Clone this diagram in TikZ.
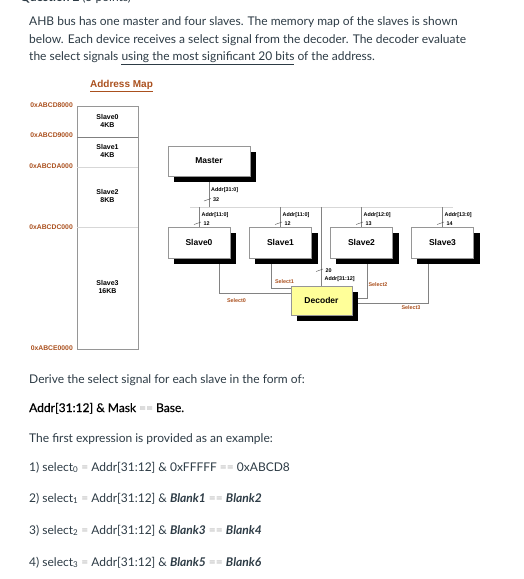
\documentclass[tikz,border=0pt]{standalone}
\usepackage{fontspec}
\setmainfont{Lato}
\newfontfamily\arial{Liberation Sans}
\newfontface\latosb[FakeBold=0.4]{Lato}
\usetikzlibrary{backgrounds}
\definecolor{txt}{HTML}{2D3B45}
\definecolor{brn}{RGB}{170,80,30}
\definecolor{boxc}{RGB}{150,150,150}
\definecolor{wirec}{RGB}{130,130,130}
\definecolor{busc}{RGB}{215,215,215}
\definecolor{decy}{RGB}{255,255,153}
\definecolor{eqc}{RGB}{175,175,175}
\tikzset{
  blk/.style={draw=boxc, fill=white, inner sep=0pt,
    font=\arial\bfseries\fontsize{8.5}{10}\selectfont},
  sig/.style={font=\arial\bfseries\fontsize{5.4}{6}\selectfont, inner sep=0pt, anchor=west},
  sel/.style={font=\arial\bfseries\fontsize{5.4}{6}\selectfont, text=brn, inner sep=0pt},
  addr/.style={font=\arial\bfseries\fontsize{6.8}{7}\selectfont, text=brn, inner sep=0pt, anchor=east},
  maptxt/.style={font=\arial\bfseries\fontsize{7}{8}\selectfont, inner sep=0pt, align=center},
  para/.style={font=\fontsize{12}{14}\selectfont, text=txt, inner sep=0pt, anchor=base west},
  wire/.style={draw=wirec, line width=0.6pt},
  buswire/.style={draw=busc, line width=0.6pt},
  tickmark/.style={draw=black!70, line width=0.4pt},
  shadowbox/.style={fill=black},
}
\newcommand\shadowof[1]{\fill[shadowbox] ([shift={(6pt,-6pt)}]#1.south west) rectangle ([shift={(6pt,-6pt)}]#1.north east);}
\begin{document}
\begin{tikzpicture}[x=1pt,y=-1pt]
\clip (0,0) rectangle (524,579);

% header text
\node[para, font=\fontsize{12}{14}\selectfont\bfseries] (q) at (20,1.5) {Question 2 {\mdseries (5 points)}};
\node[para] (p1) at (29,25.7) {AHB bus has one master and four slaves. The memory map of the slaves is shown};
\node[para] (p2) at (29,43.3) {below. Each device receives a select signal from the decoder. The decoder evaluate};
\node[para] (p3) at (29,60.5) {the select signals \underline{using the most significant 20 bits} of the address.};

% address map
\node[font=\arial\bfseries\fontsize{10}{12}\selectfont, text=brn, inner sep=0pt] (amap) at (121.5,86) {\underline{Address Map}};
\draw[draw=boxc, line width=0.6pt] (77,106) rectangle (138,349);
\draw[draw=gray, line width=0.6pt] (77,137) -- (138,137);
\draw[buswire] (77,167) -- (138,167);
\draw[buswire] (77,227) -- (138,227);
\node[addr] (a0) at (73,105) {0xABCD8000};
\node[addr] (a1) at (73,135.5) {0xABCD9000};
\node[addr] (a2) at (73,166) {0xABCDA000};
\node[addr] (a3) at (73,227) {0xABCDC000};
\node[addr] (a4) at (73,348) {0xABCE0000};
\node[maptxt] (m0) at (107.5,121) {Slave0\\4KB};
\node[maptxt] (m1) at (107.5,150.5) {Slave1\\4KB};
\node[maptxt] (m2) at (107.5,195.5) {Slave2\\8KB};
\node[maptxt] (m3) at (107.5,287) {Slave3\\16KB};

% blocks
\node[blk, minimum width=82pt, minimum height=30pt] (ms) at (209,161) {Master};
\node[blk, minimum width=62pt, minimum height=31pt] (s0) at (199,242.5) {Slave0};
\node[blk, minimum width=62pt, minimum height=31pt] (s1) at (280.5,242.5) {Slave1};
\node[blk, minimum width=62pt, minimum height=31pt] (s2) at (361.5,242.5) {Slave2};
\node[blk, minimum width=62pt, minimum height=31pt] (s3) at (442.5,242.5) {Slave3};
\node[blk, fill=decy, minimum width=61pt, minimum height=29pt] (dec) at (321.5,300.5) {Decoder};

\coordinate (bl) at (190,207);
\coordinate (br) at (453,207);

\begin{scope}[on background layer]
  \draw[buswire] (bl) -- (br);
  \draw[wire] (ms.south) -- (ms.south |- bl);
  \draw[wire] (s0.north |- bl) -- (s0.north);
  \draw[wire] (s1.north |- bl) -- (s1.north);
  \draw[wire] (s2.north |- bl) -- (s2.north);
  \draw[wire] (s3.north |- bl) -- (s3.north);
  \draw[wire] (dec.north |- bl) -- (dec.north);
  \draw[wire] ([xshift=20pt]s0.south) |- ([yshift=7.5pt]dec.west);
  \draw[wire] ([xshift=-9.5pt]s1.south) |- ([yshift=12.5pt]dec.west);
  \draw[wire] ([xshift=5.5pt]s2.south) |- ([yshift=2.5pt]dec.east);
  \draw[wire] ([xshift=-14.5pt]s3.south) |- ([yshift=-2.5pt]dec.east);
  \shadowof{ms}
  \shadowof{s0}
  \shadowof{s1}
  \shadowof{s2}
  \shadowof{s3}
  \shadowof{dec}
\end{scope}

% bus widths
\draw[tickmark] (204,201) -- (211,198.5);
\node[sig] (l32a) at (211,190) {Addr[31:0]};
\node[sig] (l32b) at (213,200) {32};
\foreach \x/\nm/\rng/\w in {200/t0/11:0/12, 281/t1/11:0/12, 362/t2/12:0/13, 443/t3/13:0/14}{
  \draw[tickmark] (\x-6,224.5) -- (\x+1,222);
  \node[sig] (\nm a) at (\x+1.5,215.5) {Addr[\rng]};
  \node[sig] (\nm b) at (\x+3.5,224) {\w};
}
\draw[tickmark] (316,271.5) -- (323,269);
\node[sig] (l20a) at (325.5,270.5) {20};
\node[sig] (l20b) at (324.5,279.5) {Addr[31:12]};

% select labels
\node[sel] (sl0) at (236.5,301) {Select0};
\node[sel] (sl1) at (284.5,282) {Select1};
\node[sel] (sl2) at (378,285) {Select2};
\node[sel] (sl3) at (411,308) {Select3};

% lower text
\node[para] (d1) at (29,383) {Derive the select signal for each slave in the form of:};
\node[para, text=black, font=\fontsize{12}{14}\latosb] (d2) at (29,412) {Addr[31:12] \& Mask {\color{eqc}==} Base.};
\node[para] (d3) at (29,442) {The first expression is provided as an example:};
\node[para] (e1) at (29,471) {1) select\textsubscript{0} {\color{eqc}=} Addr[31:12] \& 0xFFFFF {\color{eqc}==} 0xABCD8};
\node[para] (e2) at (29,502) {2) select\textsubscript{1} {\color{eqc}=} Addr[31:12] \& \textbf{\textit{Blank1}} {\color{eqc}==} \textbf{\textit{Blank2}}};
\node[para] (e3) at (29,534) {3) select\textsubscript{2} {\color{eqc}=} Addr[31:12] \& \textbf{\textit{Blank3}} {\color{eqc}==} \textbf{\textit{Blank4}}};
\node[para] (e4) at (29,566) {4) select\textsubscript{3} {\color{eqc}=} Addr[31:12] \& \textbf{\textit{Blank5}} {\color{eqc}==} \textbf{\textit{Blank6}}};
\end{tikzpicture}
\end{document}
